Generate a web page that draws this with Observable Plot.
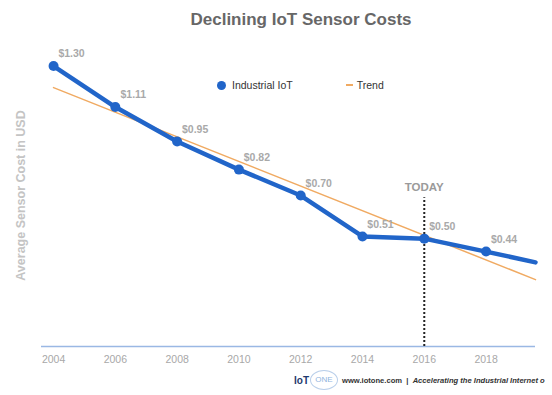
<!DOCTYPE html>
<html>
<head>
<meta charset="utf-8">
<script src="https://cdn.jsdelivr.net/npm/d3@7"></script>
<script src="https://cdn.jsdelivr.net/npm/@observablehq/plot@0.6"></script>
<style>
  html, body { margin: 0; padding: 0; background: #fff; }
  body { width: 552px; height: 395px; position: relative; overflow: hidden; font-family: "Liberation Sans", Arial, sans-serif; }
  #title { height: 36px; line-height: 40px; text-align: center; padding-left: 50px; font-size: 17px; font-weight: bold; color: #676767; box-sizing: border-box; width: 552px; }
  #legend { position: absolute; top: 78px; left: 217px; font-size: 10.5px; color: #333; white-space: nowrap; }
  #legend span { display: inline-block; vertical-align: middle; }
  .ldot { width: 9px; height: 9px; border-radius: 50%; background: #2165c9; margin-right: 6px; }
  .ldash { width: 7px; height: 2px; background: #f0aa62; margin-left: 53px; margin-right: 4px; }
  #footer { position: absolute; top: 370px; left: 294px; white-space: nowrap; font-size: 7.6px; color: #333; }
  #footer span { display: inline-block; vertical-align: middle; }
  .iot { font-size: 10px; font-weight: bold; color: #1f3a6e; }
  .one { font-size: 8px; color: #8fb4de; border: 1px solid #b9cfea; border-radius: 50%; width: 26px; height: 18px; line-height: 18px; text-align: center; margin-left: 1px; margin-right: 4px; }
  .site { font-weight: bold; }
  .tag { font-weight: bold; font-style: italic; }
</style>
</head>
<body>
<div id="title">Declining IoT Sensor Costs</div>
<div id="chart"></div>
<div id="legend"><span class="ldot"></span><span>Industrial IoT</span><span class="ldash"></span><span>Trend</span></div>
<div id="footer"><span class="iot">IoT</span><span class="one">ONE</span><span class="site">www.iotone.com&nbsp; | &nbsp;</span><span class="tag">Accelerating the Industrial Internet o</span></div>
<script>
// Data
const years = [2004, 2006, 2008, 2010, 2012, 2014, 2016, 2018];
const costs = [1.30, 1.11, 0.95, 0.82, 0.70, 0.51, 0.50, 0.44];
const lineEndYear = 2019.6;   // blue line continues to the chart edge
const lineEndCost = 0.39;
const trendYears = [2004, 2019.6];
const trendCosts = [1.20, 0.31];
const tickYears = [2004, 2006, 2008, 2010, 2012, 2014, 2016, 2018];
const todayYear = 2016;
const todayTop = 0.69;
const todayLabelValue = 0.74;
const todayLabel = "TODAY";
const yLabel = "Average Sensor Cost in USD";

const points = years.map((y, i) => ({year: y, cost: costs[i]}));
const lineData = [...points, {year: lineEndYear, cost: lineEndCost}];
const trend = trendYears.map((y, i) => ({year: y, cost: trendCosts[i]}));

const blue = "#2165c9";
const labelGray = "#a9a9a9";

const chart = Plot.plot({
  width: 552,
  height: 336,
  marginLeft: 41,
  marginRight: 17,
  marginTop: 8,
  marginBottom: 26,
  style: {fontFamily: "'Liberation Sans', Arial, sans-serif", background: "transparent"},
  x: {domain: [2003.61, 2019.6], ticks: tickYears, tickFormat: d => String(d), label: null},
  y: {domain: [0, 1.4], label: null},
  marks: [
    Plot.axisX({ticks: tickYears, tickFormat: d => String(d), tickSize: 0, tickPadding: 9, fontSize: 10.5, color: "#a8a8a8", label: null}),
    Plot.axisY({ticks: [], label: null}),
    Plot.ruleY([0], {stroke: "#9ab8e4", strokeWidth: 1.5}),
    Plot.ruleX([todayYear], {y1: 0, y2: todayTop, stroke: "#222", strokeWidth: 2, strokeDasharray: "2,2"}),
    Plot.text([todayLabel], {x: todayYear, y: todayLabelValue, fill: "#9a9a9a", fontSize: 11.5, fontWeight: "bold"}),
    Plot.line(trend, {x: "year", y: "cost", stroke: "#f0aa62", strokeWidth: 1.5}),
    Plot.line(lineData, {x: "year", y: "cost", stroke: blue, strokeWidth: 4.5, strokeLinejoin: "round"}),
    Plot.dot(points, {x: "year", y: "cost", r: 5, fill: blue}),
    Plot.text(points, {x: "year", y: "cost", text: d => "$" + d.cost.toFixed(2), dx: 18, dy: -12, fill: labelGray, fontSize: 10.5, fontWeight: "bold"}),
    Plot.text([yLabel], {frameAnchor: "left", textAnchor: "middle", rotate: -90, dx: -21, fill: "#c4c4c4", fontSize: 12.5, fontWeight: "bold"})
  ]
});
document.getElementById("chart").appendChild(chart);
</script>
</body>
</html>
